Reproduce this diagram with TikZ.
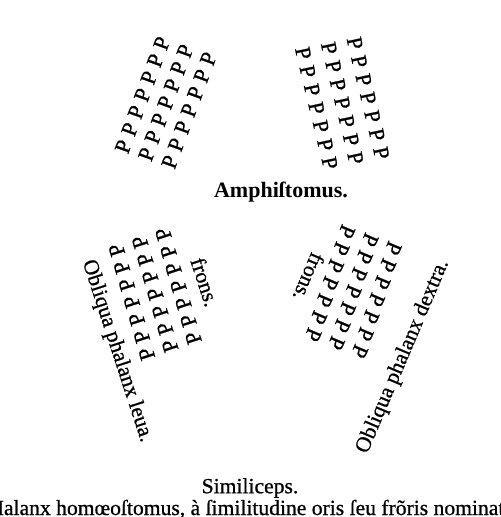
\documentclass[tikz,border=0pt]{standalone}
\usepackage{fontspec}
\setmainfont{Liberation Serif}
\newfontfamily\inkfont{Liberation Serif}[FakeBold=0.8]
\usetikzlibrary{positioning}
\tikzstyle{soldier}=[inner sep=0pt,font=\inkfont\fontsize{11}{11}\selectfont]
\tikzstyle{legend}=[inner sep=0pt,font=\inkfont\fontsize{10.8}{12}\selectfont]
\tikzstyle{title}=[inner sep=0pt,font=\fontsize{11}{13}\selectfont\bfseries]

\begin{document}
\begin{tikzpicture}[x=0.5pt,y=-0.5pt]
  \useasboundingbox (0,0) rectangle (500,517);
  % Amphistomus: left half
  \begin{scope}[shift={(161.7,43.3)},x={(11.65pt,-3.85pt)},y={(-3.2pt,-8.6pt)}]
    \foreach \r in {0,...,6}
      \foreach \c in {0,1,2}
        \node[soldier,rotate=70] (tl-\r-\c) at (\c,\r) {P};
  \end{scope}
  % Amphistomus: right half
  \begin{scope}[shift={(303.3,53.3)},x={(12.9pt,2.5pt)},y={(2.2pt,-9.15pt)}]
    \foreach \r in {0,...,6}
      \foreach \c in {0,1,2}
        \node[soldier,rotate=-78] (tr-\r-\c) at (\c,\r) {P};
  \end{scope}
  \node[title] (amphi) at (281,192) {Amphiſtomus.};
  % obliqua phalanx leua
  \begin{scope}[shift={(116.7,250)},x={(11.65pt,4pt)},y={(2.5pt,-8.65pt)}]
    \foreach \r in {0,...,6}
      \foreach \c in {0,1,2}
        \node[soldier,rotate=108] (bl-\r-\c) at (\c,\r) {P};
  \end{scope}
  \node[legend,rotate=-72] (frons-l) at (205,282) {frons.};
  \node[legend,rotate=-72] (leua) at (117,351) {Obliqua phalanx leua.};
  % obliqua phalanx dextra
  \begin{scope}[shift={(346.7,231.7)},x={(11.65pt,-4.15pt)},y={(-2.8pt,-8.6pt)}]
    \foreach \r in {0,...,6}
      \foreach \c in {0,1,2}
        \node[soldier,rotate=-113] (br-\r-\c) at (\c,\r) {P};
  \end{scope}
  \node[legend,rotate=-113] (frons-r) at (309,277) {frons.};
  \node[legend,rotate=67] (dextra) at (403,356.5) {Obliqua phalanx dextra.};
  % bottom
  \node[legend] (simil) at (250,488) {Similiceps.};
  \node[legend,anchor=base west] (text) at (-12,515) {Halanx homœoſtomus, à ſimilitudine oris ſeu frõris nominata};
\end{tikzpicture}
\end{document}
